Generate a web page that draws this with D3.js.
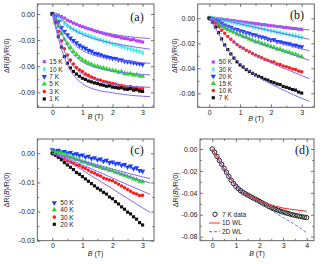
<!DOCTYPE html>
<html><head><meta charset="utf-8">
<script src="https://cdn.jsdelivr.net/npm/d3@7"></script>
<style>body{margin:0;background:#fff}svg{display:block}</style>
</head><body><svg id="c" width="327" height="264"></svg>
<script>
// ---------- DATA ----------
const B31 = [0,0.1,0.2,0.3,0.4,0.5,0.6,0.7,0.8,0.9,1,1.1,1.2,1.3,1.4,1.5,1.6,1.7,1.8,1.9,2,2.1,2.2,2.3,2.4,2.5,2.6,2.7,2.8,2.9,3];
const B41 = [0,0.1,0.2,0.3,0.4,0.5,0.6,0.7,0.8,0.9,1,1.1,1.2,1.3,1.4,1.5,1.6,1.7,1.8,1.9,2,2.1,2.2,2.3,2.4,2.5,2.6,2.7,2.8,2.9,3,3.1,3.2,3.3,3.4,3.5,3.6,3.7,3.8,3.9,4];
const BFIT = [0,0.25,0.5,0.75,1,1.5,2,2.5,3,3.25];
const BWL = [0,0.25,0.5,0.75,1,1.25,1.5,2,2.5,3,3.5,4];

// panel (a)
const aLabels = ["15 K","10 K","7 K","5 K","3 K","1 K"];
const a15K = [0,-0.0006,-0.0012,-0.0030,-0.0047,-0.0072,-0.0085,-0.0104,-0.0118,-0.0135,-0.0146,-0.0158,-0.0170,-0.0178,-0.0193,-0.0200,-0.0212,-0.0221,-0.0232,-0.0239,-0.0250,-0.0258,-0.0262,-0.0274,-0.0280,-0.0285,-0.0297,-0.0293,-0.0308,-0.0312,-0.0322];
const a10K = [0.0005,-0.0012,-0.0038,-0.0072,-0.0108,-0.0135,-0.0158,-0.0175,-0.0193,-0.0208,-0.0222,-0.0236,-0.0248,-0.0262,-0.0275,-0.0288,-0.0297,-0.0310,-0.0322,-0.0331,-0.0343,-0.0352,-0.0360,-0.0374,-0.0382,-0.0394,-0.0400,-0.0415,-0.0422,-0.0430,-0.0446];
const a7K = [0,-0.0030,-0.0090,-0.0155,-0.0200,-0.0240,-0.0275,-0.0305,-0.0330,-0.0360,-0.0380,-0.0395,-0.0418,-0.0428,-0.0450,-0.0458,-0.0468,-0.0482,-0.0490,-0.0500,-0.0510,-0.0512,-0.0525,-0.0530,-0.0543,-0.0548,-0.0552,-0.0560,-0.0566,-0.0570,-0.0580];
const a5K = [0,-0.0050,-0.0140,-0.0225,-0.0290,-0.0340,-0.0385,-0.0432,-0.0465,-0.0500,-0.0528,-0.0545,-0.0565,-0.0578,-0.0595,-0.0602,-0.0615,-0.0620,-0.0633,-0.0640,-0.0650,-0.0655,-0.0668,-0.0662,-0.0682,-0.0690,-0.0685,-0.0700,-0.0698,-0.0712,-0.0715];
const a3K = [0,-0.0080,-0.0200,-0.0310,-0.0400,-0.0470,-0.0530,-0.0575,-0.0615,-0.0640,-0.0660,-0.0690,-0.0705,-0.0725,-0.0738,-0.0755,-0.0762,-0.0775,-0.0782,-0.0790,-0.0800,-0.0805,-0.0818,-0.0822,-0.0830,-0.0838,-0.0832,-0.0848,-0.0845,-0.0858,-0.0855];
const a1K = [0,-0.0100,-0.0260,-0.0380,-0.0490,-0.0565,-0.0620,-0.0660,-0.0690,-0.0715,-0.0738,-0.0752,-0.0770,-0.0780,-0.0792,-0.0800,-0.0812,-0.0818,-0.0830,-0.0826,-0.0840,-0.0845,-0.0852,-0.0848,-0.0862,-0.0866,-0.0858,-0.0875,-0.0870,-0.0885,-0.0890];
const aFit15K = [0,-0.0020,-0.0065,-0.0110,-0.0145,-0.0195,-0.0232,-0.0258,-0.0275,-0.0282];
const aFit10K = [0,-0.0040,-0.0125,-0.0190,-0.0235,-0.0295,-0.0335,-0.0365,-0.0392,-0.0405];
const aFit7K = [0,-0.0120,-0.0260,-0.0360,-0.0420,-0.0485,-0.0520,-0.0545,-0.0560,-0.0567];
const aFit5K = [0,-0.0180,-0.0360,-0.0480,-0.0550,-0.0620,-0.0655,-0.0680,-0.0695,-0.0700];
const aFit3K = [0,-0.0280,-0.0500,-0.0620,-0.0690,-0.0765,-0.0805,-0.0830,-0.0838,-0.0843];
const aFit1K = [0,-0.0340,-0.0580,-0.0720,-0.0800,-0.0875,-0.0905,-0.0930,-0.0945,-0.0950];
const aYTicks = [0,-0.03,-0.06,-0.09];

// panel (b)
const bLabels = ["50 K","30 K","20 K","15 K","10 K","7 K"];
const b50K = [0.0003,0.0002,-0.0001,-0.0004,-0.0006,-0.0010,-0.0012,-0.0017,-0.0019,-0.0024,-0.0027,-0.0030,-0.0032,-0.0037,-0.0039,-0.0043,-0.0045,-0.0050,-0.0051,-0.0056,-0.0059,-0.0061,-0.0066,-0.0067,-0.0072,-0.0074,-0.0077,-0.0081,-0.0082,-0.0087,-0.0088];
const b30K = [0.0002,0,-0.0003,-0.0008,-0.0012,-0.0017,-0.0021,-0.0028,-0.0034,-0.0039,-0.0045,-0.0049,-0.0056,-0.0060,-0.0067,-0.0071,-0.0077,-0.0082,-0.0086,-0.0094,-0.0099,-0.0103,-0.0110,-0.0113,-0.0121,-0.0125,-0.0131,-0.0136,-0.0140,-0.0148,-0.0152];
const b20K = [0,-0.0005,-0.0015,-0.0028,-0.0040,-0.0053,-0.0063,-0.0072,-0.0085,-0.0090,-0.0099,-0.0106,-0.0115,-0.0120,-0.0130,-0.0133,-0.0143,-0.0150,-0.0155,-0.0166,-0.0173,-0.0172,-0.0185,-0.0188,-0.0195,-0.0200,-0.0203,-0.0214,-0.0215,-0.0224,-0.0227];
const b15K = [0,-0.0010,-0.0030,-0.0048,-0.0065,-0.0080,-0.0090,-0.0102,-0.0112,-0.0125,-0.0133,-0.0145,-0.0152,-0.0165,-0.0175,-0.0187,-0.0190,-0.0202,-0.0210,-0.0218,-0.0227,-0.0233,-0.0245,-0.0247,-0.0260,-0.0267,-0.0272,-0.0283,-0.0288,-0.0300,-0.0307];
const b10K = [0,-0.0015,-0.0040,-0.0068,-0.0095,-0.0120,-0.0145,-0.0168,-0.0190,-0.0210,-0.0227,-0.0240,-0.0255,-0.0268,-0.0282,-0.0293,-0.0305,-0.0315,-0.0328,-0.0335,-0.0347,-0.0350,-0.0365,-0.0370,-0.0382,-0.0387,-0.0395,-0.0405,-0.0410,-0.0422,-0.0427];
const b7K = [0,-0.0030,-0.0070,-0.0115,-0.0165,-0.0213,-0.0250,-0.0285,-0.0318,-0.0348,-0.0373,-0.0390,-0.0410,-0.0425,-0.0440,-0.0453,-0.0465,-0.0475,-0.0488,-0.0495,-0.0507,-0.0515,-0.0525,-0.0530,-0.0545,-0.0552,-0.0560,-0.0570,-0.0575,-0.0590,-0.0598];
const bFit50K = [0,-0.0003,-0.0008,-0.0016,-0.0025,-0.0042,-0.0058,-0.0073,-0.0087,-0.0093];
const bFit30K = [0,-0.0005,-0.0016,-0.0030,-0.0045,-0.0073,-0.0101,-0.0128,-0.0155,-0.0168];
const bFit20K = [0,-0.0020,-0.0052,-0.0078,-0.0100,-0.0140,-0.0178,-0.0212,-0.0245,-0.0259];
const bFit15K = [0,-0.0035,-0.0075,-0.0105,-0.0135,-0.0185,-0.0230,-0.0272,-0.0315,-0.0336];
const bFit10K = [0,-0.0058,-0.0125,-0.0180,-0.0225,-0.0295,-0.0355,-0.0408,-0.0458,-0.0483];
const bFit7K = [0,-0.0100,-0.0215,-0.0300,-0.0365,-0.0455,-0.0525,-0.0585,-0.0640,-0.0665];
const bYTicks = [0,-0.02,-0.04,-0.06];

// panel (c)
const cLabels = ["50 K","40 K","30 K","20 K"];
const c50K = [0.0012,0.0008,0.0010,0.0004,0.0006,0.0001,0.0003,-0.0004,-0.0002,-0.0008,-0.0006,-0.0013,-0.0010,-0.0018,-0.0015,-0.0022,-0.0020,-0.0027,-0.0024,-0.0032,-0.0030,-0.0036,-0.0034,-0.0041,-0.0039,-0.0047,-0.0044,-0.0053,-0.0050,-0.0059,-0.0062];
const c40K = [0.0005,0.0003,0,0.0002,-0.0006,-0.0008,-0.0012,-0.0015,-0.0020,-0.0022,-0.0029,-0.0030,-0.0036,-0.0038,-0.0043,-0.0045,-0.0048,-0.0052,-0.0054,-0.0058,-0.0060,-0.0065,-0.0068,-0.0072,-0.0075,-0.0080,-0.0082,-0.0088,-0.0090,-0.0096,-0.0098];
const c30K = [-0.0002,-0.0006,-0.0010,-0.0016,-0.0020,-0.0026,-0.0030,-0.0034,-0.0040,-0.0042,-0.0048,-0.0052,-0.0058,-0.0064,-0.0068,-0.0074,-0.0078,-0.0085,-0.0088,-0.0092,-0.0094,-0.0100,-0.0106,-0.0112,-0.0118,-0.0124,-0.0130,-0.0136,-0.0140,-0.0145,-0.0144];
const c20K = [0,-0.0006,-0.0014,-0.0022,-0.0032,-0.0040,-0.0048,-0.0056,-0.0066,-0.0072,-0.0080,-0.0088,-0.0096,-0.0104,-0.0112,-0.0120,-0.0126,-0.0134,-0.0140,-0.0150,-0.0156,-0.0166,-0.0174,-0.0184,-0.0192,-0.0202,-0.0208,-0.0218,-0.0226,-0.0238,-0.0246];
const cFit50K = [0,-0.0005,-0.0012,-0.0019,-0.0026,-0.0040,-0.0054,-0.0068,-0.0081,-0.0087];
const cFit40K = [0,-0.0006,-0.0014,-0.0022,-0.0030,-0.0046,-0.0062,-0.0078,-0.0094,-0.0102];
const cFit30K = [0,-0.0008,-0.0018,-0.0029,-0.0040,-0.0062,-0.0085,-0.0108,-0.0130,-0.0141];
const cFit20K = [0,-0.0012,-0.0027,-0.0042,-0.0058,-0.0090,-0.0122,-0.0155,-0.0187,-0.0203];
const cYTicks = [0,-0.01,-0.02,-0.03];

// panel (d)
const dLabels = ["7 K data","1D WL","2D WL"];
const d7K = [0,-0.0030,-0.0068,-0.0105,-0.0140,-0.0176,-0.0212,-0.0250,-0.0285,-0.0315,-0.0340,-0.0362,-0.0380,-0.0395,-0.0408,-0.0420,-0.0432,-0.0444,-0.0455,-0.0466,-0.0478,-0.0490,-0.0502,-0.0512,-0.0525,-0.0535,-0.0545,-0.0552,-0.0560,-0.0568,-0.0575,-0.0582,-0.0588,-0.0594,-0.0600,-0.0605,-0.0610,-0.0615,-0.0619,-0.0623,-0.0626];
const d1DWL = [0,-0.0088,-0.0180,-0.0265,-0.0335,-0.0385,-0.0420,-0.0475,-0.0512,-0.0538,-0.0555,-0.0568];
const d2DWL = [0,-0.0090,-0.0182,-0.0265,-0.0335,-0.0390,-0.0430,-0.0495,-0.0560,-0.0625,-0.0690,-0.0765];
const dYTicks = [0,-0.02,-0.04,-0.06,-0.08];

// ---------- STYLE / LAYOUT ----------
const COL = {mag:"#c13ff0", cyan:"#3ef0e6", blue:"#1d3cff", green:"#2bd82b", red:"#ff1c1c", black:"#111111", fit:"#7d6cf4"};
const FONT = "'Liberation Sans', Arial, sans-serif";
const SERIF = "'Liberation Serif', 'Times New Roman', serif";
const svg = d3.select("#c");

const symDown = {draw(ctx, size){ const s=Math.sqrt(size/ (Math.sqrt(3)/4)); const h=s*Math.sqrt(3)/2; ctx.moveTo(-s/2,-h/3); ctx.lineTo(s/2,-h/3); ctx.lineTo(0,2*h/3); ctx.closePath(); }};
const symUp = {draw(ctx, size){ const s=Math.sqrt(size/ (Math.sqrt(3)/4)); const h=s*Math.sqrt(3)/2; ctx.moveTo(-s/2,h/3); ctx.lineTo(s/2,h/3); ctx.lineTo(0,-2*h/3); ctx.closePath(); }};
const SYM = {sq:[d3.symbolSquare,10], dia:[d3.symbolDiamond,10], down:[symDown,12], up:[symUp,12], circ:[d3.symbolCircle,10], ocirc:[d3.symbolCircle,15]};

function drawPanel(p){
  const x = d3.scaleLinear().domain(p.xd).range([p.l, p.r]);
  const y = d3.scaleLinear().domain(p.yd).range([p.t, p.b]);
  const g = svg.append("g");
  const axis = (gen, tr, vals, size, fmt) => {
    const a = g.append("g").attr("transform", tr)
      .call(gen.tickValues(vals).tickSize(size).tickPadding(2.5).tickFormat(fmt));
    a.select(".domain").remove();
    a.selectAll("line").attr("stroke","#555").attr("stroke-width",0.8);
    a.selectAll("text").attr("font-family",FONT).attr("font-size",7).attr("fill","#222");
    return a;
  };
  const none = () => "";
  axis(d3.axisBottom(x), `translate(0,${p.b})`, p.xt, -3, d3.format("d"));
  axis(d3.axisBottom(x), `translate(0,${p.b})`, p.xm, -1.8, none);
  axis(d3.axisTop(x), `translate(0,${p.t})`, p.xt, -3, none);
  axis(d3.axisTop(x), `translate(0,${p.t})`, p.xm, -1.8, none);
  axis(d3.axisLeft(y), `translate(${p.l},0)`, p.yt, -3, d => d===0 ? "0.00" : d3.format(p.yf)(d).replace("−","-"));
  axis(d3.axisLeft(y), `translate(${p.l},0)`, p.ym, -1.8, none);
  axis(d3.axisRight(y), `translate(${p.r},0)`, p.yt, -3, none);
  axis(d3.axisRight(y), `translate(${p.r},0)`, p.ym, -1.8, none);

  const plot = g.append("g");
  p.series.forEach(s => {
    const [st, sz] = SYM[s.sym];
    const sg = d3.symbol().type(st).size(sz);
    plot.selectAll(null).data(s.v.map((v,i)=>[s.B[i],v])).enter().append("path")
      .attr("d", sg).attr("transform", d=>`translate(${x(d[0])},${y(d[1])})`)
      .attr("fill", s.open ? "none" : s.color)
      .attr("stroke", s.open ? s.color : "none").attr("stroke-width", 1);
  });
  const line = d3.line().x(d=>x(d[0])).y(d=>y(d[1])).curve(d3.curveMonotoneX);
  p.fits.forEach(f => {
    plot.append("path").attr("d", line(f.v.map((v,i)=>[f.B[i],v])))
      .attr("fill","none").attr("stroke", f.color).attr("stroke-width", f.w || 1)
      .attr("stroke-dasharray", f.dash || null);
  });
  g.append("rect").attr("x",p.l).attr("y",p.t).attr("width",p.r-p.l).attr("height",p.b-p.t)
    .attr("fill","none").attr("stroke","#555").attr("stroke-width",0.9);
  p.legend.items.forEach((it,i) => {
    const ly = p.legend.y + i*p.legend.dy;
    if (it.sym) {
      const [st, sz] = SYM[it.sym];
      g.append("path").attr("d", d3.symbol().type(st).size(sz))
        .attr("transform", `translate(${p.legend.x},${ly})`)
        .attr("fill", it.open ? "none" : it.color).attr("stroke", it.open ? it.color : "none").attr("stroke-width",1);
    } else {
      g.append("line").attr("x1",p.legend.x-6).attr("x2",p.legend.x+5).attr("y1",ly).attr("y2",ly)
        .attr("stroke", it.color).attr("stroke-width",1).attr("stroke-dasharray", it.dash||null);
    }
    g.append("text").attr("x", p.legend.x + p.legend.tx).attr("y", ly+2.4).text(it.label)
      .attr("font-family",FONT).attr("font-size",6.5).attr("fill","#222");
  });
  g.append("text").attr("x",p.pl[0]).attr("y",p.pl[1]).attr("text-anchor","middle").text(p.name)
    .attr("font-family",SERIF).attr("font-size",12).attr("fill","#111");
  const xt = g.append("text").attr("x",(p.l+p.r)/2).attr("y",p.xty).attr("text-anchor","middle")
    .attr("font-family",FONT).attr("font-size",7).attr("fill","#222");
  xt.append("tspan").attr("font-style","italic").text("B");
  xt.append("tspan").text(" (T)");
  const yt = g.append("text").attr("transform",`translate(${p.ytx},${(p.t+p.b)/2}) rotate(-90)`)
    .attr("text-anchor","middle").attr("font-family",FONT).attr("font-size",7).attr("fill","#222");
  yt.append("tspan").text("ΔR(");
  yt.append("tspan").attr("font-style","italic").text("B");
  yt.append("tspan").text(")/R(0)");
}

const fitS = (arr) => arr.map(v => ({B:BFIT, v, color:COL.fit}));

drawPanel({
  name:"(a)", l:37.3, r:154, t:4, b:107.3, xd:[-0.5,3.38], yd:[0.0115,-0.1072],
  xt:[0,1,2,3], xm:[-0.5,0.5,1.5,2.5], yt:aYTicks, ym:[-0.015,-0.045,-0.075,-0.105], yf:".2f",
  series:[
    {B:B31, v:a15K, color:COL.mag, sym:"sq"},
    {B:B31, v:a10K, color:COL.cyan, sym:"dia"},
    {B:B31, v:a7K, color:COL.blue, sym:"down"},
    {B:B31, v:a5K, color:COL.green, sym:"up"},
    {B:B31, v:a3K, color:COL.red, sym:"circ"},
    {B:B31, v:a1K, color:COL.black, sym:"sq"}],
  fits: fitS([aFit15K,aFit10K,aFit7K,aFit5K,aFit3K,aFit1K]),
  legend:{x:44.3, y:61.7, dy:7.45, tx:5, items:[
    {label:aLabels[0], color:COL.mag, sym:"sq"},{label:aLabels[1], color:COL.cyan, sym:"dia"},
    {label:aLabels[2], color:COL.blue, sym:"down"},{label:aLabels[3], color:COL.green, sym:"up"},
    {label:aLabels[4], color:COL.red, sym:"circ"},{label:aLabels[5], color:COL.black, sym:"sq"}]},
  pl:[137,21], xty:118.5, ytx:9
});

drawPanel({
  name:"(b)", l:197.7, r:314.3, t:4, b:107.3, xd:[-0.377,3.41], yd:[0.01144,-0.0712],
  xt:[0,1,2,3], xm:[0.5,1.5,2.5], yt:bYTicks, ym:[-0.01,-0.03,-0.05,-0.07], yf:".2f",
  series:[
    {B:B31, v:b50K, color:COL.mag, sym:"sq"},
    {B:B31, v:b30K, color:COL.cyan, sym:"dia"},
    {B:B31, v:b20K, color:COL.blue, sym:"down"},
    {B:B31, v:b15K, color:COL.green, sym:"up"},
    {B:B31, v:b10K, color:COL.red, sym:"circ"},
    {B:B31, v:b7K, color:COL.black, sym:"sq"}],
  fits: fitS([bFit50K,bFit30K,bFit20K,bFit15K,bFit10K,bFit7K]),
  legend:{x:213.3, y:62, dy:7.15, tx:5.5, items:[
    {label:bLabels[0], color:COL.mag, sym:"sq"},{label:bLabels[1], color:COL.cyan, sym:"dia"},
    {label:bLabels[2], color:COL.blue, sym:"down"},{label:bLabels[3], color:COL.green, sym:"up"},
    {label:bLabels[4], color:COL.red, sym:"circ"},{label:bLabels[5], color:COL.black, sym:"sq"}]},
  pl:[297,19], xty:121, ytx:177
});

drawPanel({
  name:"(c)", l:37.3, r:154, t:139, b:240.7, xd:[-0.5,3.38], yd:[0.0049,-0.030],
  xt:[0,1,2,3], xm:[-0.5,0.5,1.5,2.5], yt:cYTicks, ym:[-0.005,-0.015,-0.025], yf:".2f",
  series:[
    {B:B31, v:c50K, color:COL.blue, sym:"down"},
    {B:B31, v:c40K, color:COL.green, sym:"up"},
    {B:B31, v:c30K, color:COL.red, sym:"circ"},
    {B:B31, v:c20K, color:COL.black, sym:"sq"}],
  fits: fitS([cFit50K,cFit40K,cFit30K,cFit20K]),
  legend:{x:54.3, y:202.7, dy:7.2, tx:6, items:[
    {label:cLabels[0], color:COL.blue, sym:"down"},{label:cLabels[1], color:COL.green, sym:"up"},
    {label:cLabels[2], color:COL.red, sym:"circ"},{label:cLabels[3], color:COL.black, sym:"sq"}]},
  pl:[137,154], xty:256, ytx:9
});

drawPanel({
  name:"(d)", l:200, r:314, t:139, b:240.7, xd:[-0.52,4.31], yd:[0.0091,-0.0837],
  xt:[0,1,2,3,4], xm:[-0.5,0.5,1.5,2.5,3.5], yt:dYTicks, ym:[-0.01,-0.03,-0.05,-0.07], yf:".2f",
  series:[{B:B41, v:d7K, color:"#222", sym:"ocirc", open:true}],
  fits:[{B:BWL, v:d1DWL, color:"#ff2a2a", w:1.1},{B:BWL, v:d2DWL, color:"#5a6cff", w:1, dash:"3,2"}],
  legend:{x:215, y:214.3, dy:8.7, tx:7, items:[
    {label:dLabels[0], color:"#222", sym:"ocirc", open:true},
    {label:dLabels[1], color:"#ff2a2a"},
    {label:dLabels[2], color:"#5a6cff", dash:"3,2"}]},
  pl:[302,154], xty:256, ytx:178
});
</script>
</body></html>
